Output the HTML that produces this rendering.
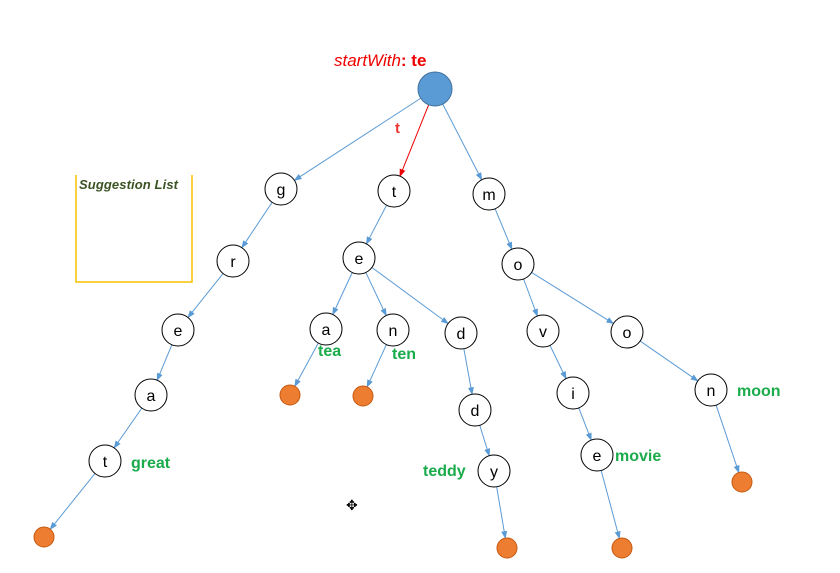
<!DOCTYPE html><html><head><style>body{margin:0;background:#fff}svg{display:block}text{font-family:"Liberation Sans",sans-serif}</style></head><body>
<svg width="840" height="573" viewBox="0 0 840 573">
<defs>
<marker id="b" markerWidth="8" markerHeight="8" refX="7" refY="4" orient="auto" markerUnits="userSpaceOnUse"><path d="M0,1 L8,4 L0,7z" fill="#5b9bd5"/></marker>
<marker id="r" markerWidth="8" markerHeight="8" refX="7" refY="4" orient="auto" markerUnits="userSpaceOnUse"><path d="M0,1 L8,4 L0,7z" fill="#e00"/></marker>
</defs>
<path d="M76,175 V282 H192 V175" fill="none" stroke="#f5c000" stroke-width="1.5"/>
<text x="79" y="189" font-size="13" font-weight="bold" font-style="italic" fill="#3b5323" textLength="99">Suggestion List</text>
<text x="334" y="66" font-size="17" fill="#e00"><tspan font-style="italic">startWith</tspan><tspan font-weight="bold">: te</tspan></text>
<text x="395" y="133" font-size="15" font-weight="bold" fill="#e33">t</text>
<g id="edges" stroke="#5b9bd5" stroke-width="1" fill="none" marker-end="url(#b)"></g>
<g id="nodes"></g>
<g font-size="16" font-weight="bold" fill="#1aab4a">
<text x="318" y="356">tea</text><text x="392" y="359">ten</text><text x="131" y="468">great</text><text x="423" y="476">teddy</text><text x="615" y="461">movie</text><text x="737" y="396">moon</text></g>
<text x="346" y="510" font-size="14">✥</text>
</svg>
<script>
var N={R:[435,89],g:[281,189],t:[394,191],m:[489,194],r:[233,261],e:[359,258],o:[518,264],e2:[178,330],a:[326,329],n:[393,330],d:[461,333],v:[543,331],o2:[627,332],a2:[151,395],d2:[475,410],i:[573,393],n2:[711,390],t2:[105,461],y:[494,471],e3:[597,455]};
var L={L1:[44,537],L2:[290,395],L3:[363,396],L4:[507,548],L5:[622,548],L6:[742,482]};
var E=[["R","g"],["R","m"],["g","r"],["r","e2"],["e2","a2"],["a2","t2"],["t2","L1"],["t","e"],["e","a"],["e","n"],["e","d"],["a","L2"],["n","L3"],["d","d2"],["d2","y"],["y","L4"],["m","o"],["o","v"],["o","o2"],["v","i"],["i","e3"],["e3","L5"],["o2","n2"],["n2","L6"]];
var ns="http://www.w3.org/2000/svg",eg=document.getElementById("edges"),ng=document.getElementById("nodes");
function P(k){return N[k]||L[k]}function R(k){return k=="R"?17:(L[k]?10:16)}
function line(a,b,g,red){var p=P(a),q=P(b),dx=q[0]-p[0],dy=q[1]-p[1],d=Math.hypot(dx,dy),ra=R(a),rb=R(b);var l=document.createElementNS(ns,"line");l.setAttribute("x1",p[0]+dx/d*ra);l.setAttribute("y1",p[1]+dy/d*ra);l.setAttribute("x2",q[0]-dx/d*rb);l.setAttribute("y2",q[1]-dy/d*rb);if(red){l.setAttribute("stroke","#e00");l.setAttribute("marker-end","url(#r)")}g.appendChild(l)}
E.forEach(function(e){line(e[0],e[1],eg)});line("R","t",eg,1);
for(var k in N){var c=document.createElementNS(ns,"circle");c.setAttribute("cx",N[k][0]);c.setAttribute("cy",N[k][1]);c.setAttribute("r",R(k));if(k=="R"){c.setAttribute("fill","#5b9bd5");c.setAttribute("stroke","#41719c")}else{c.setAttribute("fill","#fff");c.setAttribute("stroke","#000");var t=document.createElementNS(ns,"text");t.setAttribute("x",N[k][0]);t.setAttribute("y",N[k][1]+6);t.setAttribute("text-anchor","middle");t.setAttribute("font-size","16");t.textContent=k[0];ng.appendChild(c);ng.appendChild(t);continue}ng.appendChild(c)}
for(var k in L){var c=document.createElementNS(ns,"circle");c.setAttribute("cx",L[k][0]);c.setAttribute("cy",L[k][1]);c.setAttribute("r",10);c.setAttribute("fill","#ed7d31");c.setAttribute("stroke","#c55a11");ng.appendChild(c)}
</script>
</body></html>
